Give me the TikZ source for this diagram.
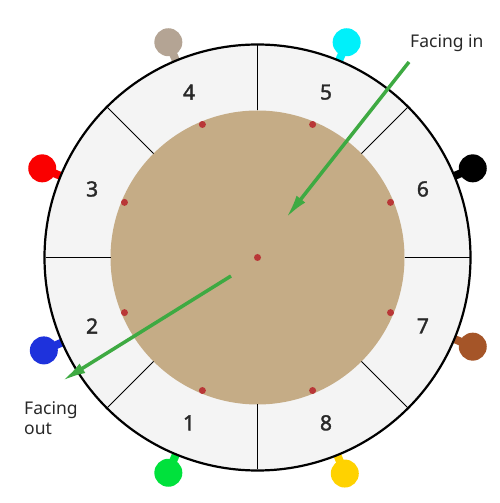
\documentclass[tikz,border=0pt]{standalone}
\usepackage{fontspec}
\setmainfont{Noto Sans}
\newfontfamily\numfont{Noto Sans}[FakeBold=1.6]
\usetikzlibrary{arrows.meta,calc}
\definecolor{ringfill}{RGB}{244,244,244}
\definecolor{disk}{RGB}{197,172,134}
\definecolor{dotred}{RGB}{185,55,55}
\definecolor{arrowgreen}{RGB}{62,170,66}
\definecolor{txt}{RGB}{40,40,40}
\definecolor{pingray}{RGB}{180,164,148}
\definecolor{pincyan}{RGB}{0,240,250}
\definecolor{pinred}{RGB}{250,0,0}
\definecolor{pinblack}{RGB}{0,0,0}
\definecolor{pinbrown}{RGB}{165,85,40}
\definecolor{pinblue}{RGB}{30,50,220}
\definecolor{pingreen}{RGB}{0,225,60}
\definecolor{pinyellow}{RGB}{255,210,0}
\begin{document}
\begin{tikzpicture}[x=1pt,y=1pt,
  numlabel/.style={font=\numfont\fontsize{21}{21}\selectfont, text=txt, inner sep=0pt},
  note/.style={font=\fontsize{17.5}{17.5}\selectfont, text=txt, inner sep=0pt, anchor=base west},
  pinhead/.style={circle, fill=#1, minimum size=28pt, inner sep=0pt},
  pinstem/.style={line width=8pt, draw=#1},
  divider/.style={line width=1pt, draw=black},
  seat/.style={circle, fill=dotred, minimum size=7pt, inner sep=0pt},
  facing/.style={line width=3.5pt, draw=arrowgreen, -{Latex[length=24pt,width=11pt]}}
]
\useasboundingbox (0,0) rectangle (500,503);
\coordinate (C) at (257.5,245.5);
% pins
\foreach \a/\c [count=\i] in {112.5/pingray,67.5/pincyan,157.5/pinred,22.5/pinblack,-22.5/pinbrown,203.5/pinblue,247.5/pingreen,-68/pinyellow}{
  \draw[pinstem=\c] ($(C)+(\a:200)$) -- ($(C)+(\a:228)$);
  \node[pinhead=\c] (pin\i) at ($(C)+(\a:233)$) {};
}
% ring
\node[circle, draw=black, line width=2.2pt, fill=ringfill, minimum size=426pt, inner sep=0pt] (ring) at (C) {};
\node[circle, fill=disk, minimum size=294pt, inner sep=0pt] (table) at (C) {};
\foreach \a in {0,45,...,315}{
  \draw[divider] ($(C)+(\a:147)$) -- ($(C)+(\a:212)$);
}
% seat dots
\foreach \a [count=\i] in {22.5,67.5,...,337.5}{
  \node[seat] (dot\i) at ($(C)+(\a:144)$) {};
}
\node[seat] (centre) at (C) {};
% numbers
\foreach \n/\a in {1/247.5,2/202.5,3/157.5,4/112.5,5/67.5,6/22.5,7/-22.5,8/-67.5}{
  \node[numlabel] (num\n) at ($(C)+(\a:179)$) {\n};
}
% arrows
\coordinate (inA) at (409,441);
\coordinate (inB) at (286,285);
\coordinate (outA) at (231,227);
\coordinate (outB) at (62,122);
\draw[facing] (inA) -- (inB);
\draw[facing] (outA) -- (outB);
\node[note] (facin) at (410,455.5) {Facing in};
\node[note] (facout1) at (24,88) {Facing};
\node[note] (facout2) at (24,68) {out};
\end{tikzpicture}
\end{document}
